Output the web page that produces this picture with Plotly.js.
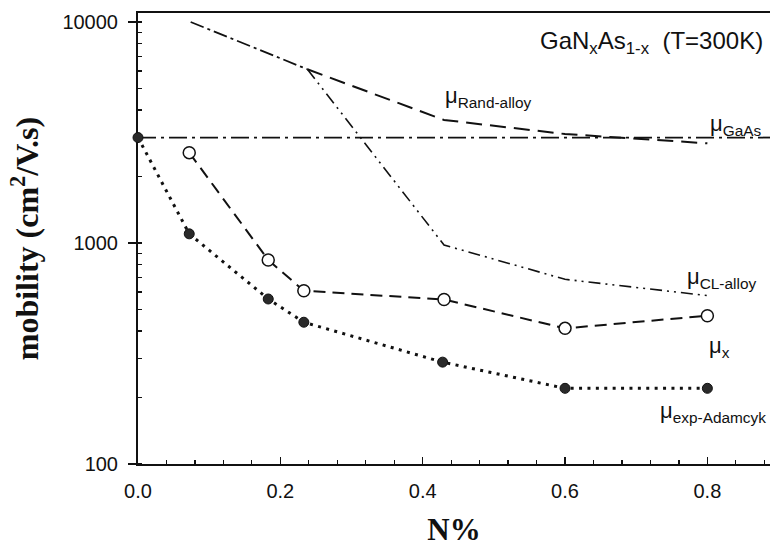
<!DOCTYPE html>
<html>
<head>
<meta charset="utf-8">
<script src="https://cdn.plot.ly/plotly-3.0.1.min.js"></script>
<style>html,body{margin:0;padding:0;background:#fff;}#chart{width:770px;height:547px;}</style>
</head>
<body>
<div id="chart"></div>
<script>
// ---- data ----
const xExp = [0, 0.072, 0.183, 0.233, 0.428, 0.6, 0.8];
const yExp = [3000, 1100, 558, 438, 289, 220, 220];

const xMuX = [0.072, 0.183, 0.233, 0.43, 0.6, 0.8];
const yMuX = [2563, 838, 608, 555, 411, 469];

const xHigh = [0.074, 0.238];
const yHigh = [10000, 6110];

const xRand = [0.238, 0.43, 0.6, 0.8];
const yRand = [6110, 3603, 3112, 2825];

const xCL = [0.238, 0.43, 0.6, 0.8];
const yCL = [6110, 979, 685, 578];

const xGaAs = [0, 0.9];
const yGaAs = [3000, 3000];

const xTickVals = [0, 0.2, 0.4, 0.6, 0.8];
const xTickText = ["0.0", "0.2", "0.4", "0.6", "0.8"];
const yTickVals = [100, 1000, 10000];
const yTickText = ["100", "1000", "10000"];

const labelText = ["μ<sub>Rand-alloy</sub>", "μ<sub>GaAs</sub>", "μ<sub>CL-alloy</sub>", "μ<sub>x</sub>", "μ<sub>exp-Adamcyk</sub>"];
const labelX = [0.4286, 0.801, 0.769, 0.7996, 0.731];
const labelY = [4580, 3420, 694, 338, 172];

const sans = "Liberation Sans, Arial, sans-serif";
const serif = "Liberation Serif, Times New Roman, serif";

const traces = [
  {x: xGaAs, y: yGaAs, mode: "lines", line: {color: "#111", width: 1.8, dash: "18px,5px,3px,5px"}, hoverinfo: "skip"},
  {x: xHigh, y: yHigh, mode: "lines", line: {color: "#111", width: 1.8, dash: "14px,4px,3px,4px"}, hoverinfo: "skip"},
  {x: xRand, y: yRand, mode: "lines", line: {color: "#111", width: 2, dash: "16px,8px"}, hoverinfo: "skip"},
  {x: xCL, y: yCL, mode: "lines", line: {color: "#111", width: 1.6, dash: "12px,5px,2px,5px,2px,5px"}, hoverinfo: "skip"},
  {x: xMuX, y: yMuX, mode: "lines+markers", line: {color: "#111", width: 2, dash: "12px,7px"},
   marker: {symbol: "circle", size: 12, color: "#fff", line: {color: "#111", width: 1.5}}, cliponaxis: false},
  {x: xExp, y: yExp, mode: "lines+markers", line: {color: "#111", width: 3, dash: "3px,5.4px"},
   marker: {symbol: "circle", size: 10, color: "#2a2a2a", line: {color: "#111", width: 1}}, cliponaxis: false}
];

const annotations = labelText.map((t, i) => ({
  x: labelX[i], y: Math.log10(labelY[i]), xref: "x", yref: "y",
  text: t, showarrow: false, xanchor: "left", yanchor: "middle",
  font: {family: sans, size: 22, color: "#111"}
}));
annotations.push({
  x: 0.992, y: 0.9335, xref: "paper", yref: "paper",
  text: "GaN<sub>x</sub>As<sub>1-x</sub>  (T=300K)", showarrow: false,
  xanchor: "right", yanchor: "middle",
  font: {family: sans, size: 24, color: "#111"}
});

const layout = {
  width: 770, height: 547,
  margin: {l: 138, r: 0, t: 13, b: 83},
  paper_bgcolor: "#fff", plot_bgcolor: "#fff",
  showlegend: false,
  xaxis: {
    range: [0, 0.888], showgrid: false, zeroline: false,
    showline: true, linecolor: "#111", linewidth: 2, mirror: true,
    tickvals: xTickVals, ticktext: xTickText,
    ticks: "inside", ticklen: 7, tickwidth: 1.5, tickcolor: "#111",
    ticklabelstandoff: 8,
    minor: {dtick: 0.04, ticks: "inside", ticklen: 4, tickwidth: 1.2, tickcolor: "#111", showgrid: false},
    tickfont: {family: sans, size: 20, color: "#111"},
    title: {text: "N%", font: {family: serif, size: 31, color: "#111", weight: "bold"}, standoff: 28},
    layer: "below traces"
  },
  yaxis: {
    type: "log", range: [2, 4.0407], showgrid: false, zeroline: false,
    showline: true, linecolor: "#111", linewidth: 2,
    tickvals: yTickVals, ticktext: yTickText,
    ticks: "outside", ticklen: 8, tickwidth: 1.5, tickcolor: "#111",
    ticklabelstandoff: 6,
    minor: {dtick: "D1", ticks: "inside", ticklen: 4, tickwidth: 1.2, tickcolor: "#111", showgrid: false},
    tickfont: {family: sans, size: 20, color: "#111"},
    title: {text: "mobility (cm<sup>2</sup>/V.s)", font: {family: serif, size: 32, color: "#111", weight: "bold"}, standoff: 14},
    layer: "below traces"
  },
  annotations: annotations
};

Plotly.newPlot("chart", traces, layout, {displayModeBar: false, staticPlot: true});
</script>
</body>
</html>
